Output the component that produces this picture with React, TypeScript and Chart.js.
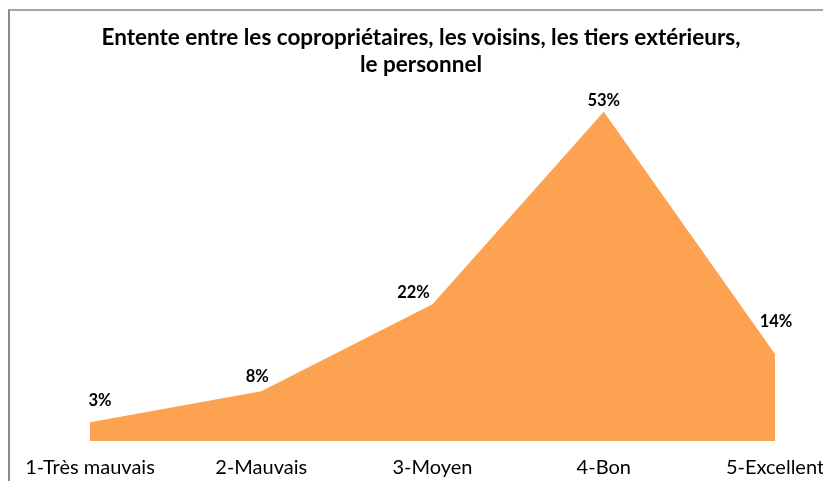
import React, { useEffect, useRef } from "react";
import { Chart, registerables } from "chart.js";

Chart.register(...registerables);

const TITLE_LINES = [
  "Entente entre les copropriétaires, les voisins, les tiers extérieurs,",
  "le personnel",
];
const CATEGORIES = ["1-Très mauvais", "2-Mauvais", "3-Moyen", "4-Bon", "5-Excellent"];
const VALUES = [3, 8, 22, 53, 14];
const VALUE_LABELS = ["3%", "8%", "22%", "53%", "14%"];

// label placement relative to each point (style)
const LABEL_OFFSETS = [
  [10, -22],
  [-4, -15],
  [-19, -12],
  [0, -11],
  [1, -32],
];

const FONT = "Lato, 'Open Sans', sans-serif";

const labelPlugin = {
  id: "valueLabels",
  afterDatasetsDraw(chart: any) {
    const meta = chart.getDatasetMeta(0);
    const ctx = chart.ctx;
    ctx.save();
    ctx.font = `bold 16.5px ${FONT}`;
    ctx.fillStyle = "#000000";
    ctx.textAlign = "center";
    ctx.textBaseline = "middle";
    meta.data.forEach((pt: any, i: number) => {
      const [dx, dy] = LABEL_OFFSETS[i];
      ctx.fillText(VALUE_LABELS[i], pt.x + dx, pt.y + dy);
    });
    ctx.restore();
  },
};

export default function App() {
  const ref = useRef<HTMLCanvasElement | null>(null);

  useEffect(() => {
    if (!ref.current) return;
    const chart = new Chart(ref.current, {
      type: "line",
      data: {
        labels: CATEGORIES,
        datasets: [
          {
            data: VALUES,
            fill: "origin",
            backgroundColor: "#FDA251",
            borderWidth: 0,
            borderColor: "rgba(0,0,0,0)",
            pointRadius: 0,
            tension: 0,
          },
        ],
      },
      options: {
        animation: false,
        responsive: false,
        devicePixelRatio: 1,
        layout: { padding: { left: 67, right: 48, top: 0, bottom: 0 } },
        plugins: {
          legend: { display: false },
          tooltip: { enabled: false },
          title: {
            display: true,
            text: TITLE_LINES,
            color: "#000000",
            font: { family: FONT, size: 22.5, weight: "bold", lineHeight: 1.2 },
            padding: { top: 24.5, bottom: 8.5 },
          },
        },
        scales: {
          x: {
            offset: false,
            grid: { display: false },
            border: { display: false },
            ticks: {
              color: "#000000",
              font: { family: FONT, size: 20 },
              padding: 7,
              maxRotation: 0,
              autoSkip: false,
            },
            afterFit: (s: any) => {
              s.height = 40;
              s.paddingLeft = 0;
              s.paddingRight = 0;
            },
          },
          y: {
            min: 0,
            max: 57,
            grid: { display: false },
            border: { display: false },
            ticks: { display: false },
            afterFit: (s: any) => {
              s.width = 23;
            },
          },
        },
      },
      plugins: [labelPlugin],
    });
    return () => chart.destroy();
  }, []);

  return (
    <div
      style={{
        position: "fixed",
        left: 0,
        top: 0,
        width: 823,
        height: 481,
        overflow: "hidden",
        background: "#ffffff",
      }}
    >
      <div
        style={{
          position: "absolute",
          left: 8,
          top: 9,
          width: 1000,
          height: 1000,
          borderLeft: "2px solid #8c8c8c",
          borderTop: "2px solid #a6a6a6",
        }}
      />
      <canvas
        ref={ref}
        width={823}
        height={481}
        style={{ position: "absolute", left: 0, top: 0, width: 823, height: 481 }}
      />
    </div>
  );
}
